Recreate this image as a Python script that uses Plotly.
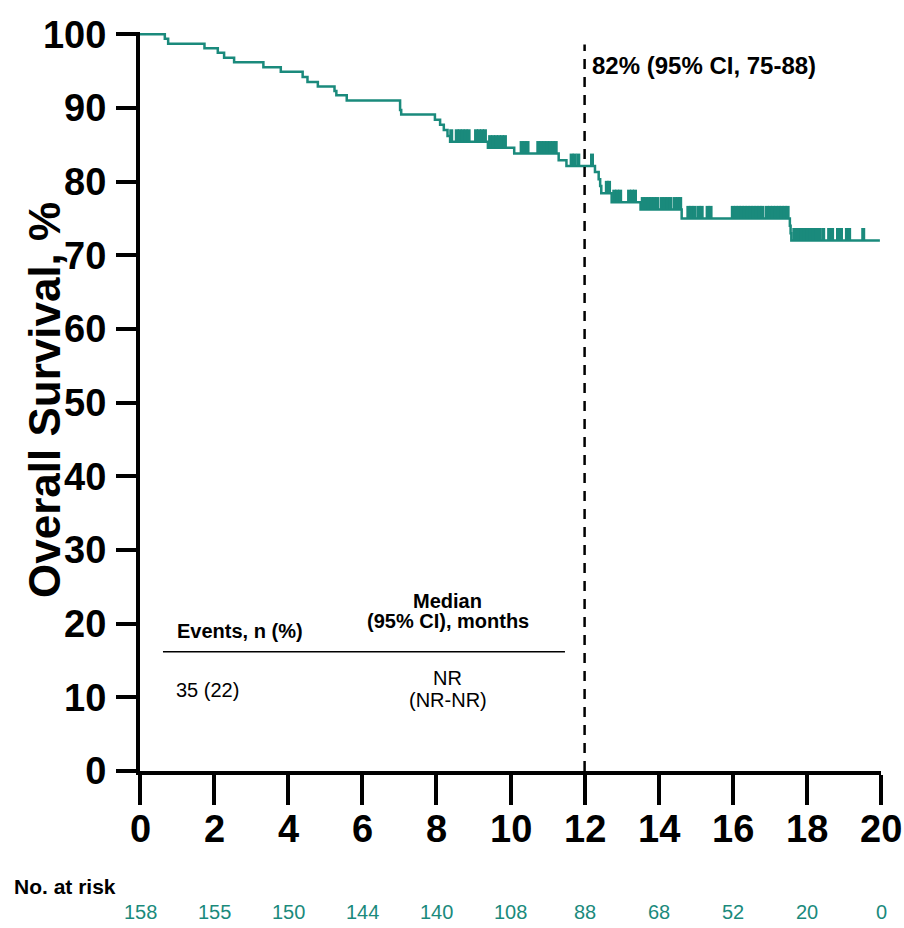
import plotly.graph_objects as go

# ---------------- data ----------------
event_times = [0.67, 0.76, 1.74, 2.10, 2.27, 2.54, 3.33, 3.80, 4.39, 4.52, 4.80, 5.25, 5.30, 5.58,
               7.02, 7.05, 7.96, 8.10, 8.20, 8.30, 8.37, 9.39, 10.10, 11.30, 11.51,
               12.28, 12.38, 12.42, 12.45, 12.73, 13.51, 14.62, 17.54, 17.56, 17.58]
surv_after = [99.4, 98.7, 98.1, 97.5, 96.8, 96.2, 95.5, 94.9, 94.2, 93.5, 92.9, 92.3, 91.7, 91.0,
              89.7, 89.1, 88.4, 87.7, 87.0, 86.2, 85.4, 84.6, 83.8, 82.9, 82.1,
              81.3, 80.3, 79.4, 78.4, 77.2, 76.2, 75.0, 74.0, 73.0, 72.0]
last_followup = 19.97

censor_times = [8.40, 8.55, 8.63, 8.71, 8.79, 8.87, 9.07, 9.15, 9.23, 9.31,
                9.45, 9.53, 9.61, 9.69, 9.77, 9.85,
                10.30, 10.38, 10.46, 10.75, 10.83, 10.91, 10.99, 11.07, 11.15, 11.22,
                11.65, 11.73, 11.83, 12.20,
                12.60, 12.66, 12.80, 12.88, 12.96, 13.20, 13.28, 13.36,
                13.57, 13.65, 13.73, 13.80, 13.88, 13.96, 14.08, 14.16, 14.24, 14.32, 14.44, 14.52, 14.58,
                14.80, 14.88, 14.97, 15.08, 15.16, 15.32, 15.40,
                16.00, 16.08, 16.16, 16.24, 16.32, 16.40, 16.48, 16.56, 16.64, 16.72, 16.80,
                16.92, 17.00, 17.08, 17.16, 17.24, 17.32, 17.40, 17.48,
                17.66, 17.76, 17.86, 17.94, 18.02, 18.10, 18.18, 18.26, 18.34, 18.44,
                18.60, 18.68, 18.84, 18.92, 19.08, 19.14, 19.52]

risk_times = [0, 2, 4, 6, 8, 10, 12, 14, 16, 18, 20]
risk_counts = [158, 155, 150, 144, 140, 108, 88, 68, 52, 20, 0]
x_tick_labels = ["0", "2", "4", "6", "8", "10", "12", "14", "16", "18", "20"]

landmark_month = 12
landmark_text = "82% (95% CI, 75-88)"
events_text = "35 (22)"
median_text = ["NR", "(NR-NR)"]

# ---------------- styles ----------------
TEAL = "#1a8a7c"
FONT = "Liberation Sans, Arial, sans-serif"

# KM step curve
xs = [0] + event_times + [last_followup]
ys = [100] + surv_after + [surv_after[-1]]

def level_at(t):
    lev = 100
    for et, s in zip(event_times, surv_after):
        if et <= t:
            lev = s
    return lev

cx, cy = [], []
tick_h = 1.7
for c in censor_times:
    lev = level_at(c)
    cx += [c, c, None]
    cy += [lev, lev + tick_h, None]

fig = go.Figure()
fig.add_trace(go.Scatter(x=xs, y=ys, mode="lines", line=dict(color=TEAL, width=2.5, shape="hv"),
                         showlegend=False, hoverinfo="skip"))
fig.add_trace(go.Scatter(x=cx, y=cy, mode="lines", line=dict(color=TEAL, width=4),
                         showlegend=False, hoverinfo="skip"))

# landmark dashed line
fig.add_shape(type="line", x0=landmark_month, x1=landmark_month, y0=0, y1=98.6, xref="x", yref="y",
              line=dict(color="black", width=2.5, dash="10px,8px"), layer="above")
fig.add_annotation(x=landmark_month, y=95.8, xref="x", yref="y", text=landmark_text, showarrow=False,
                   xanchor="left", yanchor="middle", xshift=5,
                   font=dict(family=FONT, size=24, color="black", weight="bold"))

# inset table
fig.add_shape(type="line", x0=0.62, x1=11.47, y0=16.2, y1=16.2, xref="x", yref="y",
              line=dict(color="black", width=1.5))
fig.add_annotation(x=2.7, y=19.0, text="<b>Events, n (%)</b>", showarrow=False,
                   font=dict(family=FONT, size=20, color="black"))
fig.add_annotation(x=8.31, y=23.1, text="<b>Median</b>", showarrow=False,
                   font=dict(family=FONT, size=20, color="black"))
fig.add_annotation(x=8.31, y=20.4, text="<b>(95% CI), months</b>", showarrow=False,
                   font=dict(family=FONT, size=20, color="black"))
fig.add_annotation(x=1.81, y=11.0, text=events_text, showarrow=False,
                   font=dict(family=FONT, size=20, color="black"))
fig.add_annotation(x=8.31, y=12.6, text=median_text[0], showarrow=False,
                   font=dict(family=FONT, size=20, color="black"))
fig.add_annotation(x=8.31, y=9.6, text=median_text[1], showarrow=False,
                   font=dict(family=FONT, size=20, color="black"))

# y title
fig.add_annotation(x=0, y=0.502, xref="paper", yref="paper", xshift=-96, text="<b>Overall Survival, %</b>",
                   textangle=-90, showarrow=False, xanchor="center", yanchor="middle",
                   font=dict(family=FONT, size=44, color="black"))

# x tick labels
for t, lab in zip(risk_times, x_tick_labels):
    fig.add_annotation(x=t, y=0, xref="x", yref="paper", yshift=-58, text="<b>" + lab + "</b>",
                       showarrow=False, xanchor="center", yanchor="middle",
                       font=dict(family=FONT, size=38, color="black"))

# risk table
fig.add_annotation(x=0, y=0, xref="paper", yref="paper", xshift=-128, yshift=-115,
                   text="<b>No. at risk</b>", showarrow=False, xanchor="left", yanchor="middle",
                   font=dict(family=FONT, size=21, color="black"))
for t, n in zip(risk_times, risk_counts):
    fig.add_annotation(x=t, y=0, xref="x", yref="paper", yshift=-141, text=str(n), showarrow=False,
                       xanchor="center", yanchor="middle",
                       font=dict(family=FONT, size=20, color=TEAL))

fig.update_xaxes(range=[0, 20], tickvals=risk_times, ticks="outside", ticklen=30, tickwidth=3.5,
                 tickcolor="black", showline=True, linewidth=4, linecolor="black", showgrid=False,
                 zeroline=False, showticklabels=False, automargin=False)
fig.update_yaxes(range=[0, 100.3], tickvals=list(range(0, 101, 10)), ticks="outside", ticklen=20,
                 tickwidth=3.5, tickcolor="black", showline=True, linewidth=4, linecolor="black",
                 showgrid=False, zeroline=False, ticklabelstandoff=2, automargin=False,
                 tickfont=dict(family=FONT, size=38, color="black", weight="bold"))

fig.update_layout(width=904, height=928, margin=dict(l=140, r=23, t=32, b=157, pad=0),
                  plot_bgcolor="white", paper_bgcolor="white", showlegend=False)

fig.write_html("out.html")
